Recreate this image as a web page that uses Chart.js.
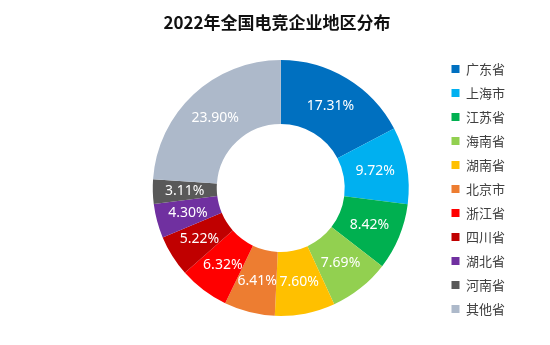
<!DOCTYPE html>
<html>
<head>
<meta charset="utf-8">
<script src="https://cdn.jsdelivr.net/npm/chart.js@4"></script>
<style>
    html, body { margin: 0; padding: 0; background: #fff; }
    #wrap { width: 550px; height: 345px; }
</style>
</head>
<body>
<div id="wrap"><canvas id="pie"></canvas></div>
<script>
/* ---------- 数据 ---------- */
const provinces = ["广东省", "上海市", "江苏省", "海南省", "湖南省", "北京市", "浙江省", "四川省", "湖北省", "河南省", "其他省"];
const shares = [17.31, 9.72, 8.42, 7.69, 7.60, 6.41, 6.32, 5.22, 4.30, 3.11, 23.90];
const colors = ["#0070C0", "#00B0F0", "#00B050", "#92D050", "#FFC000", "#ED7D31", "#FF0000", "#C00000", "#7030A0", "#595959", "#ADB9CA"];
const chartTitle = "2022年全国电竞企业地区分布";

const cjk = "'Noto Sans CJK SC', 'Noto Sans', sans-serif";

/* ---------- 百分比标签 + 居中标题 ---------- */
const sliceLabels = {
    id: "sliceLabels",
    afterDatasetsDraw(chart) {
        const ctx = chart.ctx;
        const meta = chart.getDatasetMeta(0);
        ctx.save();
        ctx.fillStyle = "#fff";
        ctx.font = "14px 'Noto Sans', sans-serif";
        ctx.textAlign = "center";
        ctx.textBaseline = "middle";
        meta.data.forEach((arc, i) => {
            const p = arc.tooltipPosition();
            ctx.fillText(shares[i].toFixed(2) + "%", p.x, p.y);
        });

        // 标题跟整张图居中，不跟 chartArea
        ctx.fillStyle = "#111";
        ctx.font = "bold 17px " + cjk;
        ctx.fillText(chartTitle, 277, 23);
        ctx.restore();
    }
};

new Chart(document.getElementById("pie"), {
    type: "doughnut",
    data: {
        labels: provinces,
        datasets: [{
            data: shares,
            backgroundColor: colors,
            borderWidth: 0,
            radius: 128,
            cutout: "50%"
        }]
    },
    options: {
        responsive: true,
        maintainAspectRatio: false,
        animation: false,
        layout: { padding: { left: 121, right: 35, top: 35, bottom: 4 } },
        plugins: {
            tooltip: { enabled: false },
            title: { display: false },
            legend: {
                position: "right",
                // 空标题只用来把图例往下推一点
                title: {
                    display: true,
                    text: " ",
                    font: { size: 1 },
                    padding: { top: 1, bottom: 0 }
                },
                labels: {
                    boxWidth: 8,
                    boxHeight: 8,
                    padding: 11,
                    color: "#404040",
                    font: { family: cjk, size: 13 }
                }
            }
        }
    },
    plugins: [sliceLabels]
});
</script>
</body>
</html>
